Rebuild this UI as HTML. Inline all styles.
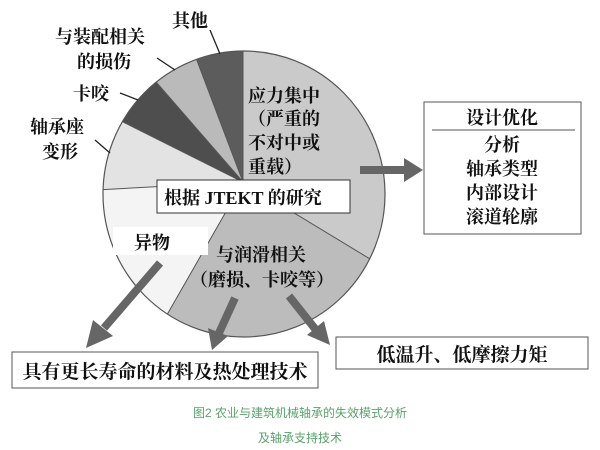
<!DOCTYPE html>
<html><head><meta charset="utf-8"><style>
html,body{margin:0;padding:0;background:#fff;width:600px;height:450px;overflow:hidden;}
svg{display:block;}
text{font-family:"Liberation Serif","Noto Serif CJK SC",serif;fill:#111;}
.c{font-family:"Liberation Sans","Noto Sans CJK SC",sans-serif;fill:#5aa26a;font-size:12px;}
</style></head><body>
<svg width="600" height="450" viewBox="0 0 600 450" xmlns="http://www.w3.org/2000/svg">
<defs><clipPath id="pc"><ellipse cx="244" cy="194" rx="141" ry="143"/></clipPath></defs>
<g clip-path="url(#pc)">
<polygon points="243,182 243,-208 700,-208 700,410 618,410" fill="#cacaca"/>
<polygon points="243,182 618,410 600,700 18,575" fill="#bcbcbc"/>
<polygon points="243,182 18,575 -200,575 -177,206" fill="#f4f4f4"/>
<polygon points="243,182 -177,206 -117,2" fill="#e3e3e3"/>
<polygon points="243,182 -117,2 -15,-115" fill="#4e4e4e"/>
<polygon points="243,182 -15,-115 105,-184" fill="#bababa"/>
<polygon points="243,182 105,-184 243,-208" fill="#5c5c5c"/>
<g stroke="#555" stroke-width="1">
<line x1="243" y1="182" x2="243" y2="40"/>
<line x1="243" y1="182" x2="380" y2="265"/>
<line x1="243" y1="182" x2="160" y2="327"/>
<line x1="243" y1="182" x2="95" y2="190"/>
<line x1="243" y1="182" x2="115" y2="118"/>
<line x1="243" y1="182" x2="150" y2="75"/>
<line x1="243" y1="182" x2="193" y2="50"/>
</g>
</g>
<ellipse cx="244" cy="194" rx="141" ry="143" fill="none" stroke="#555" stroke-width="1.2"/>
<g stroke="#222" stroke-width="1.3">
<line x1="210" y1="30" x2="220" y2="54"/>
<line x1="157" y1="58" x2="175" y2="70"/>
<line x1="120" y1="93" x2="138" y2="100"/>
<line x1="95" y1="140" x2="110" y2="153"/>
</g>
<g font-size="18" font-weight="bold">
<text x="172" y="27">其他</text>
<text x="55" y="43">与装配相关</text>
<text x="77" y="68">的损伤</text>
<text x="73" y="100">卡咬</text>
<text x="30" y="133">轴承座</text>
<text x="42" y="158">变形</text>
<text x="248" y="102">应力集中</text>
<text x="248" y="125">（严重的</text>
<text x="248" y="149">不对中或</text>
<text x="248" y="173">重载）</text>
</g>
<rect x="157" y="180" width="193" height="33" fill="#fff" stroke="#333" stroke-width="1"/>
<text x="164" y="204" font-size="18" font-weight="bold">根据 JTEKT 的研究</text>
<rect x="113" y="227" width="95" height="28" fill="#fff"/>
<text x="134" y="249" font-size="18" font-weight="bold">异物</text>
<text x="216" y="261" font-size="18" font-weight="bold">与润滑相关</text>
<text x="190" y="286" font-size="18" font-weight="bold">（磨损、卡咬等）</text>
<g fill="#666" stroke="#666">
<line x1="360" y1="170" x2="408" y2="170" stroke-width="8"/>
<polygon points="404,158 423,170 404,182" stroke="none"/>
<line x1="160" y1="263" x2="104" y2="328" stroke-width="8"/>
<polygon points="93,320 86,348 113,336" stroke="none"/>
<line x1="235" y1="298" x2="219" y2="333" stroke-width="8"/>
<polygon points="208,328 212,350 228,336" stroke="none"/>
<line x1="289" y1="296" x2="316" y2="330" stroke-width="8"/>
<polygon points="307,335 330,345 324,321" stroke="none"/>
</g>
<rect x="424" y="102" width="157" height="132" fill="#fff" stroke="#555" stroke-width="1"/>
<line x1="432" y1="130" x2="575" y2="130" stroke="#555" stroke-width="1"/>
<g font-size="18" font-weight="bold" text-anchor="middle">
<text x="502" y="124">设计优化</text>
<text x="502" y="151">分析</text>
<text x="502" y="175">轴承类型</text>
<text x="502" y="199">内部设计</text>
<text x="502" y="223">滚道轮廓</text>
</g>
<rect x="12" y="352" width="306" height="36" fill="#fff" stroke="#555" stroke-width="1"/>
<text x="165" y="378" font-size="19" font-weight="bold" text-anchor="middle">具有更长寿命的材料及热处理技术</text>
<rect x="336" y="337" width="252" height="32" fill="#fff" stroke="#555" stroke-width="1"/>
<text x="462" y="361" font-size="19" font-weight="bold" text-anchor="middle">低温升、低摩擦力矩</text>
<text class="c" x="300" y="417" text-anchor="middle">图2 农业与建筑机械轴承的失效模式分析</text>
<text class="c" x="300" y="442" text-anchor="middle">及轴承支持技术</text>
</svg>
</body></html>
